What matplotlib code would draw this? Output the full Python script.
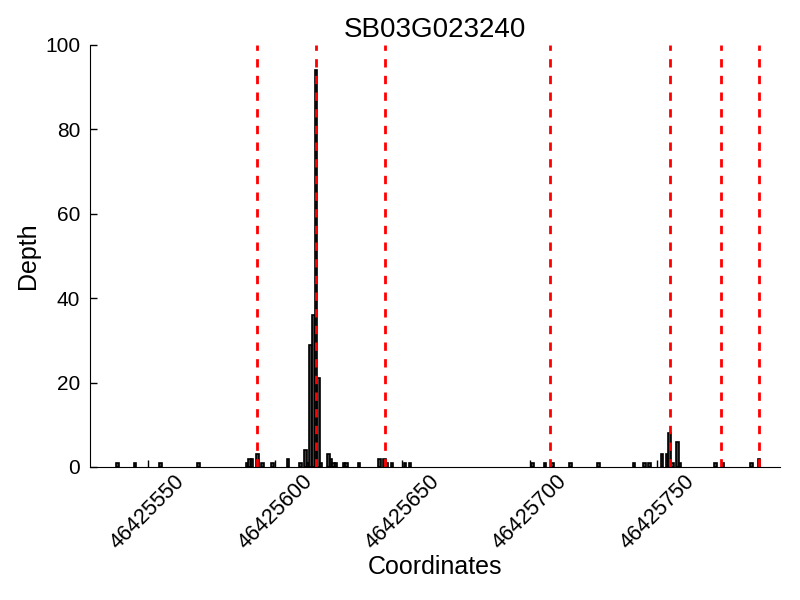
"""
Depth of coverage across SB03G023240 with exon boundaries
"""

import matplotlib
matplotlib.use("Agg")
import matplotlib.pyplot as plt

# read coverage (coordinate, depth) and exon boundaries
positions = [46425538, 46425545, 46425555, 46425570, 46425589, 46425590,
             46425591, 46425593, 46425595, 46425599, 46425605, 46425610,
             46425612, 46425613, 46425614, 46425615, 46425616, 46425617,
             46425618, 46425621, 46425622, 46425623, 46425624, 46425627,
             46425628, 46425633, 46425641, 46425643, 46425644, 46425646,
             46425651, 46425653, 46425701, 46425706, 46425709, 46425716,
             46425727, 46425741, 46425745, 46425747, 46425752, 46425754,
             46425755, 46425756, 46425758, 46425759, 46425773, 46425776,
             46425787, 46425790]
depths = [1, 1, 1, 1, 1, 2,
          2, 3, 1, 1, 2, 1,
          4, 1, 29, 36, 94, 21,
          1, 3, 2, 1, 1, 1,
          1, 1, 2, 2, 1, 1,
          1, 1, 1, 1, 1, 1,
          1, 1, 1, 1, 3, 3,
          8, 1, 6, 1, 1, 1,
          1, 2]
exon_bounds = [46425593, 46425616, 46425643, 46425708, 46425755,
               46425775, 46425790]
xticks = [46425550, 46425600, 46425650, 46425700, 46425750]
yticks = [0, 20, 40, 60, 80, 100]
x_range = (46425527.3, 46425798.3)
gene = "SB03G023240"

plt.rcParams['font.family'] = ['Liberation Sans', 'DejaVu Sans']


def plot_depth(outfile):
    fig = plt.figure(figsize=(8, 6), dpi=100)
    ax = fig.add_axes([0.1125, 0.2217, 0.8625, 0.7033])

    ax.bar(positions, depths, width=1.0, align='center',
           facecolor='0.25', edgecolor='black', linewidth=1.2)
    for b in exon_bounds:
        ax.axvline(b, color='red', linestyle='--', linewidth=2,
                   dashes=(3, 3))

    ax.set_xlim(*x_range)
    ax.set_ylim(yticks[0], yticks[-1])
    ax.set_xticks(xticks)
    ax.set_xticklabels([str(t) for t in xticks], rotation=45, ha='center')
    ax.set_yticks(yticks)
    ax.tick_params(direction='in', length=5, width=1,
                   top=False, right=False)
    ax.tick_params(axis='x', labelsize=15.5, pad=3)
    ax.tick_params(axis='y', labelsize=15, pad=7)

    ax.spines['top'].set_visible(False)
    ax.spines['right'].set_visible(False)

    ax.set_title(gene, fontsize=20)
    ax.set_ylabel("Depth", fontsize=18)
    ax.set_xlabel("Coordinates", fontsize=18, labelpad=1)

    fig.savefig(outfile, dpi=100)


if __name__ == "__main__":
    plot_depth("out.png")
